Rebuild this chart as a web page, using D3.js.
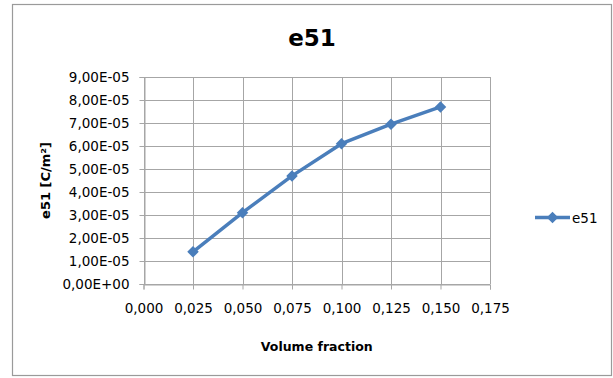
<!DOCTYPE html>
<html>
<head>
<meta charset="utf-8">
<script src="https://cdn.jsdelivr.net/npm/d3@7"></script>
<style>
  html, body { margin: 0; padding: 0; background: #fff; }
  svg { display: block; font-family: "DejaVu Sans", sans-serif; }
</style>
</head>
<body>
<svg id="chart" width="613" height="378"></svg>
<script>
// Piezoelectric coefficient e51 versus volume fraction
const volumeFraction = [0.025, 0.050, 0.075, 0.100, 0.125, 0.150];
const e51Values = [1.40e-5, 3.10e-5, 4.70e-5, 6.10e-5, 6.95e-5, 7.70e-5];
const seriesName = "e51";

const xTickValues = [0, 0.025, 0.05, 0.075, 0.1, 0.125, 0.15, 0.175];
const xTickLabels = ["0,000", "0,025", "0,050", "0,075", "0,100", "0,125", "0,150", "0,175"];
const yTickValues = [0, 1e-5, 2e-5, 3e-5, 4e-5, 5e-5, 6e-5, 7e-5, 8e-5, 9e-5];
const yTickLabels = ["0,00E+00", "1,00E-05", "2,00E-05", "3,00E-05", "4,00E-05",
                     "5,00E-05", "6,00E-05", "7,00E-05", "8,00E-05", "9,00E-05"];

const svg = d3.select("#chart");
const plot = { left: 143.5, right: 490, top: 77, bottom: 284 };
const lineColor = "#4a7ebb";
const gridColor = "#a6a6a6";

// chart frame
svg.append("rect")
  .attr("x", 12.5).attr("y", 4.5)
  .attr("width", 599).attr("height", 371)
  .attr("fill", "#fff").attr("stroke", "#9a9a9a").attr("stroke-width", 1.2);

const x = d3.scaleLinear().domain([0, 0.175]).range([plot.left, plot.right]);
const y = d3.scaleLinear().domain([0, 9e-5]).range([plot.bottom, plot.top]);

// gridlines
const grid = svg.append("g").attr("stroke", gridColor).attr("stroke-width", 1);
grid.selectAll("line.h").data(yTickValues).join("line")
  .attr("x1", plot.left).attr("x2", plot.right)
  .attr("y1", d => Math.round(y(d)) + 0.5).attr("y2", d => Math.round(y(d)) + 0.5);
grid.selectAll("line.v").data(xTickValues).join("line")
  .attr("y1", plot.top).attr("y2", plot.bottom)
  .attr("x1", d => Math.round(x(d)) + 0.5).attr("x2", d => Math.round(x(d)) + 0.5);

// axes
const xAxis = d3.axisBottom(x).tickValues(xTickValues)
  .tickFormat((d, i) => xTickLabels[i]).tickSizeOuter(0).tickSize(5).tickPadding(14);
const yAxis = d3.axisLeft(y).tickValues(yTickValues)
  .tickFormat((d, i) => yTickLabels[i]).tickSizeOuter(0).tickSize(5).tickPadding(10);

const gx = svg.append("g").attr("transform", `translate(0,${Math.round(y(0)) + 0.5})`).call(xAxis);
const gy = svg.append("g").attr("transform", `translate(${Math.round(x(0)) + 0.5},0)`).call(yAxis);
[gx, gy].forEach(g => {
  g.selectAll("path, line").attr("stroke", gridColor);
  g.selectAll("text").attr("fill", "#000").attr("font-size", 13.5)
    .attr("font-family", "'DejaVu Sans', sans-serif");
});

// series line and diamond markers
const pts = volumeFraction.map((v, i) => [v, e51Values[i]]);
svg.append("path")
  .datum(pts)
  .attr("fill", "none").attr("stroke", lineColor).attr("stroke-width", 3.5)
  .attr("stroke-linejoin", "round")
  .attr("d", d3.line().x(d => x(d[0])).y(d => y(d[1])));

const diamond = d3.symbol().type(d3.symbolDiamond2).size(85);
svg.append("g").selectAll("path").data(pts).join("path")
  .attr("transform", d => `translate(${x(d[0])},${y(d[1])})`)
  .attr("d", diamond).attr("fill", lineColor);

// titles
svg.append("text").attr("x", 312).attr("y", 46).attr("text-anchor", "middle")
  .attr("font-size", 23).attr("font-weight", "bold").text("e51");
svg.append("text").attr("x", (plot.left + plot.right) / 2).attr("y", 351)
  .attr("text-anchor", "middle").attr("font-size", 12.5).attr("font-weight", "bold")
  .text("Volume fraction");
svg.append("text")
  .attr("transform", `translate(50,${(plot.top + plot.bottom) / 2}) rotate(-90)`)
  .attr("text-anchor", "middle").attr("font-size", 13).attr("font-weight", "bold")
  .text("e51 [C/m²]");

// legend
const lg = svg.append("g").attr("transform", "translate(535,217.5)");
lg.append("line").attr("x1", 0).attr("x2", 35).attr("y1", 0).attr("y2", 0)
  .attr("stroke", lineColor).attr("stroke-width", 3.5);
lg.append("path").attr("transform", "translate(17.5,0)").attr("d", diamond).attr("fill", lineColor);
lg.append("text").attr("x", 37).attr("y", 5).attr("font-size", 13.5).text(seriesName);
</script>
</body>
</html>
